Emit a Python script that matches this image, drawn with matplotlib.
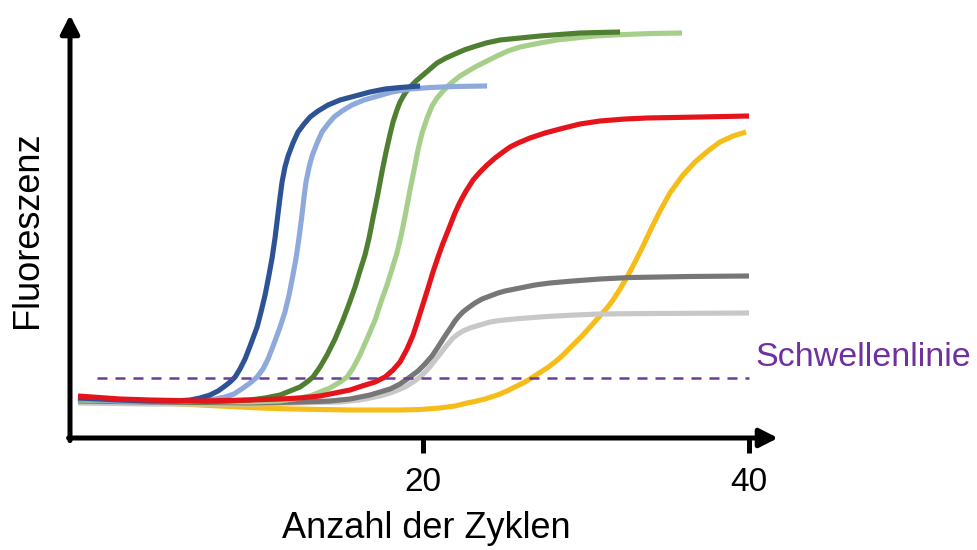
import matplotlib
matplotlib.use("Agg")
import matplotlib.pyplot as plt

plt.rcParams['font.family'] = ['Liberation Sans', 'DejaVu Sans']

# Amplification curves: cycle number vs. fluorescence (arbitrary units)
blue_dark_x = [-1.17, 1.41, 3.25, 4.79, 5.71, 6.32, 6.93, 7.42, 7.85, 8.16, 8.47, 8.77, 9.08, 9.39,
               9.82, 10.06, 10.31, 10.55, 10.74, 10.92, 11.10, 11.23, 11.35, 11.53, 11.72, 12.02,
               12.33, 12.70, 13.07, 13.56, 14.17, 14.91, 15.83, 16.75, 17.67, 18.59, 19.82]
blue_dark_y = [10.0, 9.5, 9.25, 9.25, 9.5, 10.0, 10.75, 11.75, 13.0, 14.0, 15.25, 17.25, 19.75, 23.0,
               27.75, 31.5, 35.75, 40.75, 45.0, 50.0, 56.0, 60.25, 64.0, 67.75, 70.5, 73.75,
               76.5, 78.5, 80.25, 81.75, 83.25, 84.5, 85.5, 86.5, 87.25, 87.62, 88.0]

blue_light_x = [-1.17, 1.41, 3.25, 6.32, 7.24, 7.85, 8.40, 8.96, 9.39, 9.82, 10.18, 10.49, 10.80,
                11.23, 11.53, 11.78, 12.02, 12.21, 12.39, 12.58, 12.70, 12.82, 13.01, 13.19, 13.50,
                13.80, 14.17, 14.54, 15.03, 15.64, 16.38, 17.24, 18.10, 19.20, 20.43, 21.96, 23.93]
blue_light_y = [9.75, 9.25, 9.25, 9.25, 9.75, 10.25, 11.0, 12.5, 13.75, 15.25, 17.25, 19.75, 23.0,
                27.75, 31.5, 35.75, 40.75, 45.0, 50.0, 56.0, 60.25, 64.0, 67.75, 70.5, 73.75,
                76.5, 78.5, 80.25, 81.75, 83.25, 84.5, 85.5, 86.5, 87.25, 87.62, 87.88, 88.0]

green_dark_x = [-1.17, 3.25, 6.32, 8.16, 9.39, 10.31, 11.23, 11.84, 12.45, 12.88, 13.25, 13.68,
                14.11, 14.60, 15.09, 15.46, 15.83, 16.13, 16.44, 16.69, 16.93, 17.24, 17.48, 17.73,
                17.98, 18.16, 18.40, 18.59, 18.90, 19.20, 19.57, 20.0, 20.43, 20.86, 21.41, 21.96,
                22.52, 23.07, 23.87, 24.72, 25.95, 27.18, 28.40, 29.63, 30.86, 32.09]
green_dark_y = [9.75, 9.25, 9.0, 9.25, 9.5, 10.0, 10.75, 11.75, 12.75, 14.0, 15.25, 17.75,
                20.75, 24.75, 29.5, 33.5, 37.75, 41.75, 45.75, 50.0, 55.0, 61.25, 66.5, 71.5,
                76.0, 79.0, 82.0, 84.0, 86.25, 87.75, 89.25, 90.75, 92.25, 93.75, 95.0, 96.0,
                97.0, 97.75, 98.75, 99.5, 100.0, 100.5, 100.88, 101.25, 101.38, 101.5]

green_light_x = [-1.17, 3.25, 9.39, 11.23, 12.45, 13.07, 13.68, 14.29, 14.91, 15.34, 15.71, 16.13,
                 16.56, 17.06, 17.42, 17.79, 18.10, 18.40, 18.65, 18.90, 19.20, 19.45, 19.69, 19.94,
                 20.25, 20.55, 20.86, 21.23, 21.66, 22.27, 22.88, 23.31, 23.93, 24.54, 25.21, 25.95,
                 27.18, 28.22, 29.33, 30.55, 31.66, 33.93, 35.89]
green_light_y = [9.5, 9.25, 9.0, 9.25, 10.0, 10.5, 11.5, 12.5, 14.0, 15.25, 17.5, 20.75,
                 24.75, 29.5, 34.0, 38.25, 42.25, 46.25, 50.5, 55.5, 62.0, 67.0, 72.0, 76.25,
                 80.0, 83.0, 85.0, 86.75, 88.5, 90.5, 92.0, 93.0, 94.25, 95.5, 96.75, 97.75,
                 98.75, 99.5, 100.0, 100.5, 100.75, 101.12, 101.25]

red_x = [-1.17, 1.41, 3.25, 6.32, 9.39, 11.23, 12.45, 13.68, 14.60, 15.52, 16.26, 17.06, 17.67,
         18.16, 18.59, 19.02, 19.39, 19.69, 20.0, 20.31, 20.61, 20.92, 21.23, 21.60, 21.96, 22.27,
         22.64, 23.07, 23.50, 23.93, 24.42, 24.91, 25.34, 25.83, 26.56, 27.48, 28.40, 29.63,
         30.86, 32.39, 33.74, 36.99, 40.0]
red_y = [10.5, 9.75, 9.5, 9.25, 9.5, 9.75, 10.0, 10.5, 11.25, 12.0, 13.0, 14.0, 15.25,
         17.0, 19.0, 22.25, 25.75, 29.5, 33.5, 37.5, 41.5, 45.25, 48.75, 52.5, 56.25, 59.0,
         61.75, 64.5, 66.5, 68.25, 70.0, 71.5, 72.75, 73.75, 75.0, 76.25, 77.25, 78.5,
         79.25, 79.75, 80.0, 80.25, 80.5]

gray_dark_x = [-1.17, 3.25, 9.39, 12.45, 14.29, 15.52, 16.75, 17.36, 17.98, 18.59, 19.20, 19.69,
               20.12, 20.55, 20.92, 21.23, 21.47, 21.72, 21.96, 22.21, 22.45, 22.76, 23.19, 23.62,
               24.11, 24.60, 25.03, 25.95, 26.87, 27.79, 29.20, 30.86, 32.70, 36.38, 40.0]
gray_dark_y = [9.25, 9.0, 8.75, 9.0, 9.25, 9.75, 10.75, 11.5, 12.25, 13.5, 15.25, 16.75,
               18.5, 20.5, 22.75, 24.75, 26.25, 27.75, 29.25, 30.5, 31.5, 32.5, 33.75, 34.75,
               35.5, 36.25, 36.75, 37.5, 38.25, 38.75, 39.25, 39.75, 40.12, 40.38, 40.5]

gray_light_x = [-1.17, 3.25, 9.39, 14.91, 16.13, 17.36, 18.16, 18.90, 19.39, 19.82, 20.25, 20.61,
                21.04, 21.47, 21.84, 22.15, 22.45, 22.88, 23.50, 24.11, 24.72, 25.95, 27.61, 29.33,
                30.86, 33.93, 40.0]
gray_light_y = [8.75, 8.5, 8.5, 9.0, 9.5, 10.5, 11.5, 12.75, 14.0, 15.25, 17.0, 18.75,
                21.0, 23.25, 25.0, 26.0, 26.75, 27.5, 28.25, 29.0, 29.38, 29.88, 30.38, 30.75,
                31.0, 31.12, 31.25]

yellow_x = [-1.17, 0.18, 1.41, 3.87, 7.55, 10.0, 12.02, 15.52, 18.59, 19.82, 21.04, 21.96, 22.70,
            23.31, 23.80, 24.29, 24.72, 25.15, 25.64, 26.20, 26.75, 27.18, 27.61, 28.10, 28.59,
            29.20, 29.75, 30.25, 30.74, 31.29, 31.66, 32.09, 32.52, 33.01, 33.50, 33.99, 34.54,
            35.15, 35.95, 36.69, 37.48, 38.22, 39.02, 39.82]
yellow_y = [9.5, 9.25, 9.0, 8.75, 8.0, 7.5, 7.25, 7.0, 7.0, 7.12, 7.5, 8.0, 8.75,
            9.25, 9.75, 10.38, 11.0, 11.75, 12.75, 13.88, 15.25, 16.38, 17.5, 19.0, 20.75,
            23.25, 25.5, 27.75, 30.0, 32.5, 34.5, 37.25, 40.25, 44.0, 48.0, 52.25, 56.75,
            61.25, 65.75, 69.0, 71.75, 74.0, 75.5, 76.5]

threshold_x = [0, 40]
threshold_level = 15

x_ticks = [20, 40]
x_label = "Anzahl der Zyklen"
y_label = "Fluoreszenz"
threshold_label = "Schwellenlinie"

fig = plt.figure(figsize=(9.77, 5.5), dpi=100)
ax = fig.add_axes([70 / 977, 1 - 438 / 550, 708 / 977, 423 / 550])
ax.set_xlim(-1.66, 41.78)
ax.set_ylim(0, 105.75)

lw = 3.7
curves = [
    (yellow_x, yellow_y, "#F6BD1A"),
    (gray_light_x, gray_light_y, "#C8C8C8"),
    (gray_dark_x, gray_dark_y, "#777777"),
    (green_light_x, green_light_y, "#A6CF8B"),
    (green_dark_x, green_dark_y, "#4F7F30"),
    (blue_light_x, blue_light_y, "#8EA9DB"),
    (blue_dark_x, blue_dark_y, "#2E5395"),
    (red_x, red_y, "#E5141B"),
]
for xs, ys, col in curves:
    ax.plot(xs, ys, color=col, lw=lw, solid_capstyle="butt", solid_joinstyle="round", zorder=2)

ax.plot(threshold_x, [threshold_level] * 2, color="#6A3E98", lw=1.8,
        dashes=(4, 3.2), zorder=3)
ax.text(40.4, 20, threshold_label, color="#7030A0", fontsize=24.5,
        ha="left", va="center", clip_on=False)

# axes drawn as arrows
for s in ax.spines.values():
    s.set_visible(False)
arrow = dict(arrowstyle="-|>,head_length=0.55,head_width=0.28", lw=3.6, color="black",
             shrinkA=0, shrinkB=0, mutation_scale=20)
ax.annotate("", xy=(1.0, 0), xytext=(-0.002, 0), xycoords="axes fraction",
            textcoords="axes fraction", arrowprops=arrow, annotation_clip=False)
ax.annotate("", xy=(0, 1.0), xytext=(0, -0.006), xycoords="axes fraction",
            textcoords="axes fraction", arrowprops=arrow, annotation_clip=False)

ax.set_xticks(x_ticks)
ax.set_xticklabels([str(t) for t in x_ticks])
ax.tick_params(axis="x", direction="out", length=11, width=3.6, labelsize=24, pad=10)
ax.set_yticks([])

fig.text(426 / 977, 1 - 528 / 550, x_label, fontsize=26, ha="center", va="center")
fig.text(28 / 977, 1 - 230 / 550, y_label, fontsize=26, ha="center", va="center", rotation=90)

fig.savefig("out.png", dpi=100)
